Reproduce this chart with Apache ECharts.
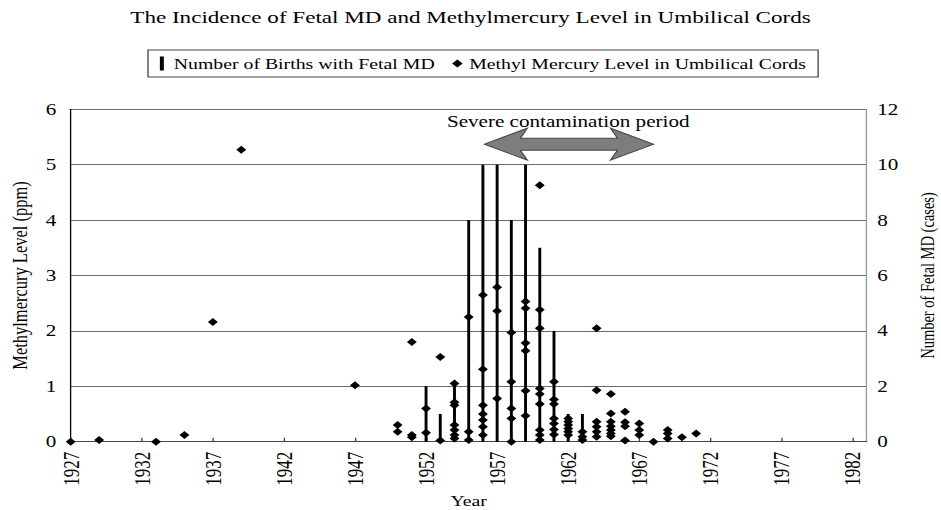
<!DOCTYPE html>
<html>
<head>
<meta charset="utf-8">
<script src="https://cdn.jsdelivr.net/npm/echarts@6/dist/echarts.min.js"></script>
<style>
html,body{margin:0;padding:0;background:#fff;}
#wrap{width:941px;height:510px;overflow:hidden;position:relative;background:#fff;}
#chart{width:713px;height:510px;transform-origin:0 0;}
</style>
</head>
<body>
<div id="wrap"><div id="chart"></div></div>
<script>
// ---- data ----
const BASE_YEAR = 1927;
const yearTicksStart = 1927;
const birthYears = [1952, 1953, 1954, 1955, 1956, 1957, 1958, 1959, 1960, 1961, 1962, 1963];
const birthCases = [2, 1, 2, 8, 10, 10, 8, 10, 7, 4, 1, 1];
const mercuryYears = [1927, 1929, 1933, 1935, 1937, 1939, 1947, 1950, 1951, 1952, 1953, 1954, 1955, 1956, 1957, 1958, 1959, 1960, 1961, 1962, 1963, 1964, 1965, 1966, 1967, 1968, 1969, 1970, 1971];
const mercuryLevels = [
  [0], [0.03], [0], [0.12], [2.16], [5.27], [1.02],
  [0.30, 0.18],
  [1.80, 0.12, 0.08],
  [0.60, 0.16],
  [1.53, 0.02],
  [1.05, 0.71, 0.66, 0.30, 0.21, 0.12, 0.06],
  [2.25, 0.18, 0.03],
  [2.65, 1.31, 0.66, 0.50, 0.39, 0.27, 0.12],
  [2.79, 2.36, 0.78],
  [1.97, 1.08, 0.60, 0.42, 0],
  [2.53, 2.41, 1.78, 1.64, 0.92, 0.47],
  [4.63, 2.38, 2.05, 0.96, 0.86, 0.68, 0.21, 0.12, 0.03],
  [1.08, 0.76, 0.68, 0.42, 0.33, 0.22, 0.13],
  [0.42, 0.36, 0.30, 0.24, 0.18, 0.12],
  [0.18, 0.09, 0.03],
  [2.05, 0.93, 0.36, 0.27, 0.18, 0.09],
  [0.86, 0.51, 0.36, 0.28, 0.21, 0.15, 0.10],
  [0.54, 0.35, 0.28, 0.02],
  [0.33, 0.21, 0.12],
  [0],
  [0.21, 0.15, 0.06],
  [0.08],
  [0.15]
];
const contaminationStart = 1956.1;
const contaminationEnd = 1968;
const labelYear = 1962;

// ---- layout (the original graphic is horizontally stretched) ----
const S = 941 / 713;
const px = v => v / S;
const FONT = '"Liberation Serif", "Times New Roman", serif';

const barData = birthYears.map((y, i) => [y - BASE_YEAR, birthCases[i]]);
const scatterData = [];
mercuryYears.forEach((y, i) => mercuryLevels[i].forEach(v => scatterData.push([y - BASE_YEAR, v])));

const dom = document.getElementById('chart');
dom.style.transform = 'scaleX(' + S + ')';
const chart = echarts.init(dom, null, {renderer: 'svg'});

const option = {
  animation: false,
  backgroundColor: '#fff',
  textStyle: {fontFamily: FONT, color: '#000'},
  title: {
    text: 'The Incidence of Fetal MD and Methylmercury Level in Umbilical Cords',
    left: 'center', top: 8, padding: 0,
    textStyle: {fontFamily: FONT, fontSize: 17.5, fontWeight: 'normal', color: '#000'}
  },
  legend: {
    top: 50, left: px(148),
    padding: [6, 9], itemGap: 13, itemWidth: 8, itemHeight: 14,
    borderColor: '#444', borderWidth: 1, backgroundColor: '#fff',
    textStyle: {fontFamily: FONT, fontSize: 15, color: '#000'},
    data: [
      {name: 'Number of Births with Fetal MD', icon: 'path://M0,0h3v14h-3z'},
      {name: 'Methyl Mercury Level in Umbilical Cords', icon: 'path://M5,0L10,5L5,10L0,5Z'}
    ]
  },
  grid: {left: px(70.7), right: 713 - px(866.7), top: 109.3, bottom: 68.3,
    containLabel: false, outerBoundsMode: 'none'},
  xAxis: {
    type: 'value', min: 0, max: 56, interval: 5,
    name: 'Year', nameLocation: 'middle', nameGap: 52,
    nameTextStyle: {fontFamily: FONT, fontSize: 15, color: '#000'},
    axisLine: {show: true, lineStyle: {color: '#444', width: 1}},
    axisTick: {show: true, inside: true, length: 4, lineStyle: {color: '#444'}},
    axisLabel: {rotate: 90, margin: 10, fontFamily: FONT, fontSize: 17, color: '#000',
      showMaxLabel: false, formatter: v => String(v + yearTicksStart)},
    splitLine: {show: false}
  },
  yAxis: [
    {
      type: 'value', min: 0, max: 6, interval: 1, position: 'left',
      name: 'Methylmercury Level (ppm)', nameLocation: 'middle', nameRotate: 90, nameGap: 30,
      nameTextStyle: {fontFamily: FONT, fontSize: 16.5, color: '#000'},
      axisLine: {show: true, lineStyle: {color: '#000', width: 1}},
      axisTick: {show: false},
      axisLabel: {margin: 11, fontFamily: FONT, fontSize: 16, color: '#000'},
      splitLine: {show: true, lineStyle: {color: '#6a6a6a', width: 1}}
    },
    {
      type: 'value', min: 0, max: 12, interval: 2, position: 'right',
      name: 'Number of Fetal MD (cases)', nameLocation: 'middle', nameRotate: 90, nameGap: 39,
      nameTextStyle: {fontFamily: FONT, fontSize: 14.5, color: '#000'},
      axisLine: {show: true, lineStyle: {color: '#999', width: 1}},
      axisTick: {show: false},
      axisLabel: {margin: 8, fontFamily: FONT, fontSize: 16, color: '#000'},
      splitLine: {show: false}
    }
  ],
  series: [
    {
      name: 'Number of Births with Fetal MD', type: 'bar', yAxisIndex: 1,
      barWidth: 2.2, itemStyle: {color: '#000'}, data: barData, z: 2
    },
    {
      name: 'Methyl Mercury Level in Umbilical Cords', type: 'scatter', yAxisIndex: 0,
      symbol: 'diamond', symbolSize: [7.5, 8], clip: false,
      itemStyle: {color: '#000', opacity: 1}, data: scatterData, z: 3
    }
  ]
};
chart.setOption(option);

// annotation: arrow + label placed through the axes
const toPx = p => chart.convertToPixel({xAxisIndex: 0, yAxisIndex: 0}, p);
const L = toPx([contaminationStart - BASE_YEAR, 5.37]);
const R = toPx([contaminationEnd - BASE_YEAR, 5.37]);
const T = toPx([labelYear - BASE_YEAR, 5.78]);
const hl = px(43), hh = 16, sh = 6, back = px(7);
const cy = L[1];
const pts = [
  [L[0], cy], [L[0] + hl, cy - hh], [L[0] + hl - back, cy - sh],
  [R[0] - hl + back, cy - sh], [R[0] - hl, cy - hh], [R[0], cy],
  [R[0] - hl, cy + hh], [R[0] - hl + back, cy + sh], [L[0] + hl - back, cy + sh],
  [L[0] + hl, cy + hh]
];
chart.setOption({
  graphic: [
    {type: 'polygon', shape: {points: pts}, style: {fill: '#7d7d7d', stroke: '#4a4a4a', lineWidth: 1}, z: 10},
    {type: 'text', x: T[0], y: T[1], style: {text: 'Severe contamination period', fontFamily: FONT, fontSize: 16,
      fill: '#000', align: 'center', verticalAlign: 'middle'}, z: 10}
  ]
});
</script>
</body>
</html>
